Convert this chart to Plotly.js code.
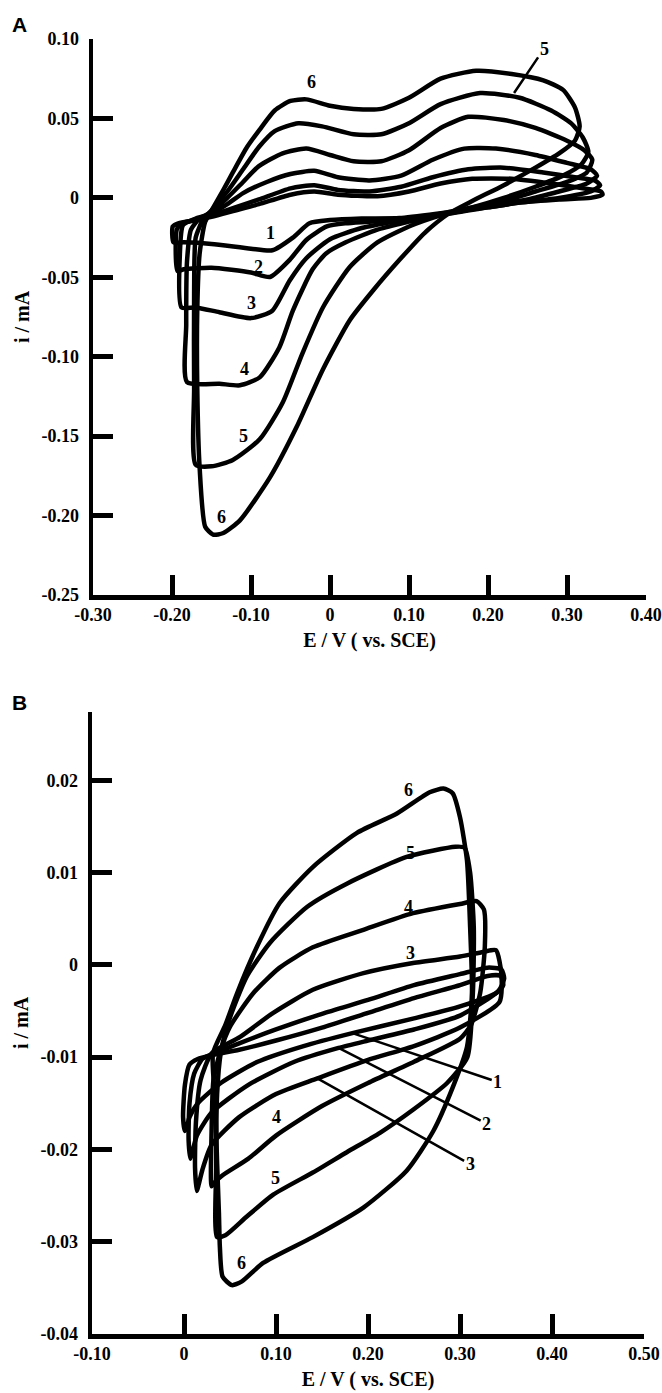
<!DOCTYPE html>
<html>
<head>
<meta charset="utf-8">
<script src="https://cdn.plot.ly/plotly-3.0.1.min.js"></script>
<style>html,body{margin:0;padding:0;background:#fff;}#chart{width:662px;height:1393px;}</style>
</head>
<body>
<div id="chart"></div>
<script>
// ---------- Panel A : cyclic voltammograms (E / V vs. SCE, i / mA) ----------
var a1E = [-0.198,-0.199,-0.192,-0.170,-0.150,-0.120,-0.090,-0.050,-0.020,0.010,0.060,0.100,0.140,0.180,0.230,0.280,0.320,0.343,0.345,0.330,0.290,0.240,0.200,0.150,0.088,0.040,0.000,-0.026,-0.047,-0.073,-0.100,-0.150,-0.185,-0.198];
var a1I = [-0.028,-0.018,-0.016,-0.014,-0.012,-0.008,-0.004,0.002,0.004,0.002,0.001,0.004,0.009,0.012,0.012,0.009,0.006,0.004,0.002,0.000,-0.001,-0.003,-0.006,-0.009,-0.0127,-0.013,-0.014,-0.016,-0.025,-0.033,-0.032,-0.029,-0.028,-0.028];

var a2E = [-0.193,-0.194,-0.188,-0.170,-0.150,-0.120,-0.090,-0.050,-0.020,0.010,0.050,0.090,0.130,0.175,0.220,0.270,0.310,0.335,0.342,0.330,0.290,0.240,0.200,0.150,0.100,0.050,0.020,-0.004,-0.030,-0.051,-0.076,-0.100,-0.150,-0.185,-0.193];
var a2I = [-0.046,-0.020,-0.016,-0.014,-0.011,-0.006,-0.001,0.006,0.008,0.005,0.004,0.007,0.013,0.018,0.019,0.016,0.013,0.011,0.008,0.004,0.000,-0.003,-0.006,-0.010,-0.013,-0.015,-0.016,-0.018,-0.0265,-0.039,-0.0498,-0.047,-0.044,-0.045,-0.046];

var a3E = [-0.188,-0.190,-0.186,-0.170,-0.150,-0.130,-0.110,-0.080,-0.050,-0.020,0.010,0.050,0.090,0.130,0.170,0.210,0.260,0.300,0.330,0.338,0.325,0.290,0.250,0.200,0.160,0.120,0.080,0.040,0.000,-0.030,-0.051,-0.073,-0.100,-0.140,-0.170,-0.188];
var a3I = [-0.069,-0.035,-0.017,-0.013,-0.010,-0.004,0.003,0.010,0.015,0.017,0.013,0.011,0.014,0.024,0.031,0.031,0.027,0.022,0.018,0.014,0.009,0.004,-0.001,-0.005,-0.009,-0.012,-0.015,-0.019,-0.026,-0.038,-0.052,-0.071,-0.0757,-0.072,-0.069,-0.069];

var a4E = [-0.181,-0.182,-0.181,-0.176,-0.165,-0.150,-0.130,-0.110,-0.090,-0.060,-0.030,0.000,0.030,0.065,0.100,0.140,0.175,0.220,0.260,0.300,0.322,0.332,0.325,0.300,0.260,0.220,0.180,0.140,0.100,0.060,0.020,-0.005,-0.022,-0.047,-0.064,-0.089,-0.114,-0.140,-0.181];
var a4I = [-0.116,-0.080,-0.040,-0.020,-0.013,-0.009,0.000,0.010,0.020,0.028,0.031,0.027,0.023,0.023,0.030,0.044,0.051,0.049,0.044,0.036,0.030,0.024,0.016,0.010,0.004,-0.002,-0.006,-0.010,-0.015,-0.020,-0.028,-0.035,-0.045,-0.071,-0.094,-0.113,-0.118,-0.117,-0.116];

var a5E = [-0.170,-0.172,-0.172,-0.170,-0.160,-0.150,-0.130,-0.110,-0.090,-0.070,-0.040,-0.010,0.030,0.065,0.100,0.140,0.190,0.240,0.280,0.305,0.320,0.327,0.318,0.295,0.260,0.220,0.180,0.140,0.100,0.060,0.025,-0.009,-0.035,-0.060,-0.089,-0.123,-0.150,-0.170];
var a5I = [-0.168,-0.120,-0.060,-0.025,-0.013,-0.008,0.004,0.018,0.032,0.042,0.047,0.045,0.040,0.040,0.047,0.059,0.066,0.063,0.055,0.047,0.038,0.029,0.021,0.014,0.007,0.000,-0.006,-0.011,-0.018,-0.028,-0.0435,-0.069,-0.098,-0.129,-0.152,-0.165,-0.169,-0.168];

var a6E = [-0.158,-0.165,-0.168,-0.168,-0.165,-0.158,-0.150,-0.135,-0.123,-0.105,-0.089,-0.070,-0.050,-0.030,0.000,0.030,0.065,0.100,0.140,0.185,0.230,0.270,0.295,0.310,0.316,0.310,0.290,0.260,0.220,0.180,0.150,0.120,0.088,0.055,0.025,-0.009,-0.042,-0.076,-0.114,-0.135,-0.148,-0.158];
var a6I = [-0.207,-0.170,-0.120,-0.070,-0.035,-0.015,-0.008,0.005,0.016,0.032,0.043,0.055,0.061,0.062,0.058,0.056,0.056,0.063,0.075,0.080,0.078,0.074,0.068,0.057,0.045,0.036,0.028,0.019,0.008,-0.002,-0.010,-0.022,-0.039,-0.058,-0.077,-0.108,-0.144,-0.176,-0.203,-0.211,-0.212,-0.207];

// ---------- Panel B ----------
var b1E = [0.001,-0.001,0.001,0.006,0.015,0.030,0.060,0.100,0.150,0.200,0.250,0.300,0.330,0.344,0.347,0.340,0.300,0.250,0.183,0.130,0.080,0.040,0.015,0.006,0.003,0.001];
var b1I = [-0.0180,-0.0165,-0.0130,-0.0108,-0.0102,-0.0098,-0.0092,-0.0082,-0.0068,-0.0052,-0.0036,-0.0022,-0.0012,-0.0012,-0.0022,-0.0030,-0.0045,-0.0058,-0.0074,-0.0088,-0.0105,-0.0128,-0.0150,-0.0165,-0.0176,-0.0180];

var b2E = [0.007,0.005,0.006,0.011,0.020,0.030,0.060,0.100,0.150,0.200,0.250,0.300,0.330,0.345,0.348,0.342,0.300,0.250,0.200,0.168,0.120,0.070,0.030,0.014,0.009,0.007];
var b2I = [-0.0210,-0.0190,-0.0150,-0.0118,-0.0102,-0.0097,-0.0085,-0.0070,-0.0053,-0.0038,-0.0022,-0.0010,-0.0003,-0.0005,-0.0015,-0.0028,-0.0055,-0.0070,-0.0082,-0.0090,-0.0105,-0.0130,-0.0160,-0.0185,-0.0203,-0.0210];

var b3E = [0.014,0.012,0.013,0.018,0.030,0.061,0.097,0.140,0.195,0.249,0.300,0.325,0.339,0.345,0.343,0.300,0.250,0.200,0.145,0.100,0.060,0.030,0.020,0.016,0.014];
var b3I = [-0.0245,-0.0220,-0.0170,-0.0125,-0.0096,-0.0078,-0.0052,-0.0027,-0.0009,0.0002,0.0009,0.0014,0.0016,-0.0010,-0.0040,-0.0068,-0.0088,-0.0103,-0.0123,-0.0140,-0.0165,-0.0195,-0.0222,-0.0238,-0.0245];

var b4E = [0.030,0.030,0.032,0.040,0.050,0.075,0.104,0.140,0.195,0.249,0.300,0.318,0.326,0.327,0.322,0.312,0.300,0.250,0.200,0.150,0.100,0.070,0.042,0.033,0.030];
var b4I = [-0.024,-0.018,-0.0125,-0.0092,-0.0067,-0.0031,-0.0003,0.0019,0.0038,0.0056,0.0066,0.0069,0.0060,0.0020,-0.0030,-0.0065,-0.0080,-0.0105,-0.0128,-0.0153,-0.0185,-0.0210,-0.0228,-0.0236,-0.024];

var b5E = [0.036,0.035,0.036,0.040,0.049,0.068,0.0935,0.134,0.177,0.242,0.295,0.305,0.311,0.315,0.314,0.308,0.286,0.249,0.213,0.177,0.140,0.097,0.068,0.045,0.036];
var b5I = [-0.0295,-0.022,-0.014,-0.0095,-0.0060,-0.0013,0.0024,0.0063,0.0088,0.0117,0.0128,0.0127,0.0100,0.0040,-0.0030,-0.0100,-0.0128,-0.0157,-0.0182,-0.0203,-0.0225,-0.0249,-0.0273,-0.0293,-0.0295];

var b6E = [0.042,0.039,0.038,0.036,0.034,0.0315,0.045,0.0576,0.079,0.104,0.140,0.188,0.2315,0.267,0.282,0.292,0.300,0.3076,0.311,0.313,0.3076,0.292,0.271,0.242,0.195,0.140,0.086,0.063,0.052,0.042];
var b6I = [-0.0338,-0.0306,-0.027,-0.0215,-0.015,-0.0096,-0.0065,-0.0031,0.0019,0.0067,0.0106,0.0143,0.0164,0.0187,0.0191,0.0186,0.0160,0.0113,0.0041,-0.0030,-0.0089,-0.0133,-0.0180,-0.0223,-0.0263,-0.0295,-0.0323,-0.0343,-0.0347,-0.0338];

// ---------- ticks ----------
var aXTicks = [-0.30,-0.20,-0.10,0,0.10,0.20,0.30,0.40];
var aXText  = ['-0.30','-0.20','-0.10','0','0.10','0.20','0.30','0.40'];
var aYTicks = [0.10,0.05,0,-0.05,-0.10,-0.15,-0.20,-0.25];
var aYText  = ['0.10','0.05','0','-0.05','-0.10','-0.15','-0.20','-0.25'];
var bXTicks = [-0.10,0,0.10,0.20,0.30,0.40,0.50];
var bXText  = ['-0.10','0','0.10','0.20','0.30','0.40','0.50'];
var bYTicks = [0.02,0.01,0,-0.01,-0.02,-0.03,-0.04];
var bYText  = ['0.02','0.01','0','-0.01','-0.02','-0.03','-0.04'];

// ---------- curve labels ----------
var aLabText = ['6','1','2','3','4','5','6'];
var aLabE    = [-0.024,-0.075,-0.091,-0.099,-0.108,-0.109,-0.137];
var aLabI    = [0.073,-0.022,-0.0435,-0.066,-0.108,-0.150,-0.201];
var aPtrText = ['5'];
var aPtrE    = [0.271];  var aPtrI    = [0.094];
var aPtrHeadE= [0.233];  var aPtrHeadI= [0.066];

var bLabText = ['6','5','4','3','4','5','6'];
var bLabE    = [0.2435,0.2457,0.2435,0.2457,0.101,0.099,0.062];
var bLabI    = [0.0189,0.0121,0.0063,0.0013,-0.0165,-0.0231,-0.0323];
var bPtrText = ['1','2','3'];
var bPtrE    = [0.341,0.329,0.311];
var bPtrI    = [-0.0127,-0.0172,-0.0216];
var bPtrHeadE= [0.183,0.168,0.145];
var bPtrHeadI= [-0.0074,-0.0090,-0.0123];

// ---------- build ----------
var serif = 'Liberation Serif, Times New Roman, serif';
function curve(x, y, xa, ya) {
  return {x: x, y: y, xaxis: xa, yaxis: ya, type: 'scatter', mode: 'lines', hoverinfo: 'skip',
          line: {color: '#000', width: 4.5, shape: 'spline', smoothing: 0.6}};
}
var data = [
  curve(a1E,a1I,'x','y'), curve(a2E,a2I,'x','y'), curve(a3E,a3I,'x','y'),
  curve(a4E,a4I,'x','y'), curve(a5E,a5I,'x','y'), curve(a6E,a6I,'x','y'),
  curve(b1E,b1I,'x2','y2'), curve(b2E,b2I,'x2','y2'), curve(b3E,b3I,'x2','y2'),
  curve(b4E,b4I,'x2','y2'), curve(b5E,b5I,'x2','y2'), curve(b6E,b6I,'x2','y2')
];

var W = 662, H = 1393;
function axisCommon(vals, txt) {
  return {showline: true, linewidth: 4.5, linecolor: '#000', mirror: false,
          ticks: 'inside', ticklen: 20, tickwidth: 5, tickcolor: '#000',
          tickmode: 'array', tickvals: vals, ticktext: txt,
          tickfont: {family: serif, size: 18, color: '#000', weight: 'bold'},
          showgrid: false, zeroline: false, fixedrange: true};
}
var titleFont = {family: serif, size: 20, color: '#000', weight: 'bold'};

var xa = axisCommon(aXTicks, aXText);
xa.domain = [93/W, 646/W]; xa.range = [-0.30, 0.40]; xa.anchor = 'y';
xa.title = {text: 'E / V ( vs. SCE)', font: titleFont, standoff: 10};
var ya = axisCommon(aYTicks, aYText);
ya.domain = [1-595/H, 1-39/H]; ya.range = [-0.25, 0.10]; ya.anchor = 'x';
ya.title = {text: 'i / mA', font: titleFont, standoff: 8};
ya.ticklabelstandoff = 6;

var xb = axisCommon(bXTicks, bXText);
xb.domain = [92/W, 644/W]; xb.range = [-0.10, 0.50]; xb.anchor = 'y2';
xb.title = {text: 'E / V ( vs. SCE)', font: titleFont, standoff: 10};
var yb = axisCommon(bYTicks, bYText);
yb.domain = [1-1334/H, 1-712/H]; yb.range = [-0.04, 0.0274]; yb.anchor = 'x2';
yb.title = {text: 'i / mA', font: titleFont, standoff: 8};
yb.ticklabelstandoff = 6;

var labFont = {family: serif, size: 18, color: '#000', weight: 'bold'};
var ann = [];
function addLabels(txt, xs, ys, xr, yr) {
  for (var k = 0; k < txt.length; k++) {
    ann.push({text: txt[k], x: xs[k], y: ys[k], xref: xr, yref: yr, showarrow: false, font: labFont,
              xanchor: 'center', yanchor: 'middle'});
  }
}
function addPointers(txt, xs, ys, hx, hy, xr, yr) {
  for (var k = 0; k < txt.length; k++) {
    ann.push({text: txt[k], x: hx[k], y: hy[k], ax: xs[k], ay: ys[k], xref: xr, yref: yr,
              axref: xr, ayref: yr, showarrow: true, arrowhead: 0, arrowwidth: 2.5,
              arrowcolor: '#000', standoff: 0, startstandoff: 0, font: labFont});
  }
}
addLabels(aLabText, aLabE, aLabI, 'x', 'y');
addPointers(aPtrText, aPtrE, aPtrI, aPtrHeadE, aPtrHeadI, 'x', 'y');
addLabels(bLabText, bLabE, bLabI, 'x2', 'y2');
addPointers(bPtrText, bPtrE, bPtrI, bPtrHeadE, bPtrHeadI, 'x2', 'y2');

var panelFont = {family: 'Liberation Sans, Arial, sans-serif', size: 21, color: '#000', weight: 'bold'};
ann.push({text: 'A', xref: 'paper', yref: 'paper', x: 19/W, y: 1-25/H, xanchor: 'center', yanchor: 'middle', showarrow: false, font: panelFont});
ann.push({text: 'B', xref: 'paper', yref: 'paper', x: 19/W, y: 1-702/H, xanchor: 'center', yanchor: 'middle', showarrow: false, font: panelFont});

var layout = {
  width: W, height: H, margin: {l: 0, r: 0, t: 0, b: 0},
  paper_bgcolor: '#fff', plot_bgcolor: '#fff', showlegend: false,
  xaxis: xa, yaxis: ya, xaxis2: xb, yaxis2: yb, annotations: ann
};
Plotly.newPlot('chart', data, layout, {displayModeBar: false, staticPlot: true});
</script>
</body>
</html>
